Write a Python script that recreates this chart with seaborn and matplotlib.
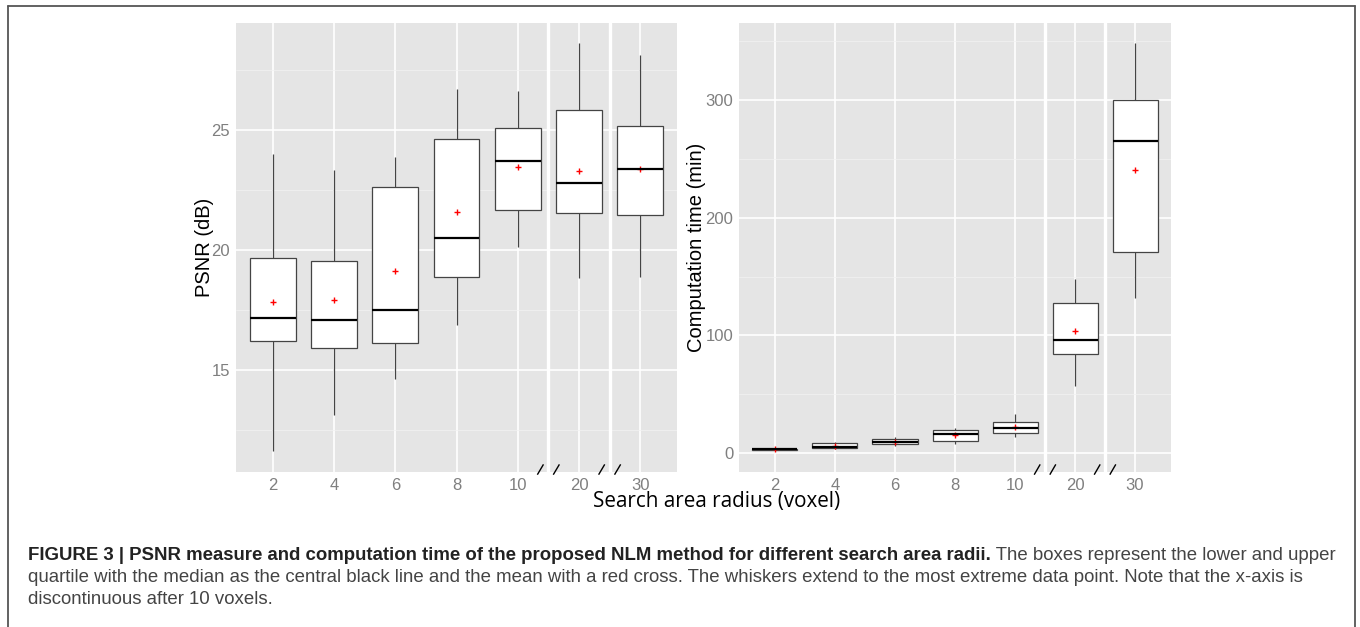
import numpy as np
import pandas as pd
import matplotlib
matplotlib.use("Agg")
import matplotlib.pyplot as plt
import matplotlib.transforms as mtransforms
from matplotlib.lines import Line2D
from matplotlib.ticker import MultipleLocator, FixedLocator
import seaborn as sns

# ---------------- data ----------------
radii = ["2", "4", "6", "8", "10", "20", "30"]

psnr_min = [11.63, 13.12, 14.61, 16.89, 20.15, 18.83, 18.90]
psnr_q1 = [16.21, 15.92, 16.14, 18.88, 21.68, 21.54, 21.47]
psnr_med = [17.15, 17.08, 17.51, 20.50, 23.71, 22.82, 23.37]
psnr_q3 = [19.67, 19.54, 22.65, 24.62, 25.11, 25.85, 25.19]
psnr_max = [24.01, 23.35, 23.90, 26.71, 26.65, 28.62, 28.12]
psnr_mean = [17.85, 17.93, 19.15, 21.57, 23.48, 23.30, 23.40]

time_min = [2.0, 3.5, 6.2, 7.6, 13.3, 57.0, 131.5]
time_q1 = [2.5, 4.0, 7.6, 9.9, 16.7, 84.2, 171.0]
time_med = [3.0, 5.4, 9.1, 16.4, 21.3, 96.1, 265.1]
time_q3 = [3.5, 8.2, 11.6, 19.6, 26.4, 127.3, 300.3]
time_max = [4.0, 9.0, 13.3, 21.0, 32.9, 147.7, 348.6]
time_mean = [3.0, 6.0, 9.5, 15.0, 21.9, 103.7, 240.4]

psnr_ticks = [15, 20, 25]
time_ticks = [0, 100, 200, 300]
axis_breaks = [4.5, 5.5]          # between 10|20 and 20|30

caption_bold = ("FIGURE 3 | PSNR measure and computation time of the proposed NLM "
                "method for different search area radii.")
caption_rest1 = " The boxes represent the lower and upper"
caption_line2 = ("quartile with the median as the central black line and the mean with a red "
                 "cross. The whiskers extend to the most extreme data point. Note that the x-axis is")
caption_line3 = "discontinuous after 10 voxels."


def five_number_frame(mins, q1s, meds, q3s, maxs):
    rows = []
    for r, a, b, c, d, e in zip(radii, mins, q1s, meds, q3s, maxs):
        for v in (a, b, c, d, e):
            rows.append((r, v))
    return pd.DataFrame(rows, columns=["radius", "value"])


psnr_df = five_number_frame(psnr_min, psnr_q1, psnr_med, psnr_q3, psnr_max)
time_df = five_number_frame(time_min, time_q1, time_med, time_q3, time_max)

# ---------------- style ----------------
sns.set_style("darkgrid")
plt.rcParams["font.family"] = ["Liberation Sans", "DejaVu Sans"]

W, H = 1360, 627
fig = plt.figure(figsize=(W / 100, H / 100), dpi=100)
fig.patch.set_facecolor("white")


def px_rect(x0, y0, x1, y1):
    return [x0 / W, 1 - y1 / H, (x1 - x0) / W, (y1 - y0) / H]


ax1 = fig.add_axes(px_rect(236, 23, 677, 472))
ax2 = fig.add_axes(px_rect(739, 23, 1171, 472))

panels = [
    (ax1, psnr_df, psnr_mean, psnr_ticks, (10.75, 29.47), 2.5),
    (ax2, time_df, time_mean, time_ticks, (-16.2, 365.7), 50),
]

for ax, df, means, yt, ylim, minor in panels:
    ax.set_facecolor("#E5E5E5")
    sns.boxplot(data=df, x="radius", y="value", order=radii, ax=ax,
                color="white", saturation=1, width=0.75,
                linecolor="#444444", linewidth=0.9, whis=(0, 100),
                showcaps=False, showfliers=False,
                medianprops=dict(color="black", linewidth=1.6))
    sns.pointplot(x=radii, y=means, order=radii, ax=ax, color="red",
                  marker="+", linestyle="none", errorbar=None,
                  markersize=5, markeredgewidth=1.0)
    ax.set_xlim(-0.6, 6.6)
    ax.set_ylim(*ylim)
    ax.yaxis.set_major_locator(FixedLocator(yt))
    ax.yaxis.set_minor_locator(MultipleLocator(minor))
    ax.set_axisbelow(True)
    ax.grid(True, which="major", color="white", linewidth=1.2)
    ax.grid(True, which="minor", axis="y", color="#F2F2F2", linewidth=0.5)
    ax.tick_params(axis="both", which="major", length=3, width=0.8,
                   color="#7F7F7F", labelcolor="#7F7F7F", labelsize=12, pad=1.2)
    ax.tick_params(which="minor", length=0)
    for s in ax.spines.values():
        s.set_visible(False)
    ax.set_xlabel("")
    ax.set_ylabel("")
    for xb in axis_breaks:
        ax.axvline(xb, color="white", linewidth=2.4, zorder=1.5)
        trans = mtransforms.blended_transform_factory(ax.transData, ax.transAxes)
        for dx in (-0.13, 0.13):
            xc = xb + dx
            ax.plot([xc - 0.05, xc + 0.05], [-0.006, 0.017], transform=trans,
                    color="black", linewidth=1.0, clip_on=False,
                    solid_capstyle="butt", zorder=5)

# axis labels
fig.text(204 / W, 1 - 247.5 / H, "PSNR (dB)", rotation=90, ha="center", va="center",
         fontsize=14.5, color="black")
fig.text(697 / W, 1 - 247.5 / H, "Computation time (min)", rotation=90, ha="center",
         va="center", fontsize=14.5, color="black")
xl = fig.text(717 / W, 1 - 501 / H, "Search area radius (voxel)", ha="center", va="center",
              fontsize=14, color="black", family=["Open Sans", "DejaVu Sans"])

# figure frame
for xs, ys in [((8, 1355), (6, 6)), ((8, 8), (6, 627)), ((1355, 1355), (6, 627))]:
    fig.add_artist(Line2D([x / W for x in xs], [1 - y / H for y in ys],
                          color="#555555", linewidth=1.3))

# caption
fig.canvas.draw()
rend = fig.canvas.get_renderer()
w = xl.get_window_extent(rend).width
xl.set_fontsize(14 * 249 / w)

x0 = 28
base = 10.0
tb = fig.text(x0 / W, 1 - 555 / H, caption_bold, fontsize=base, fontweight="bold",
              color="#222222", va="center", ha="left")
tr = fig.text(x0 / W, 1 - 555 / H, caption_rest1, fontsize=base, color="#444444",
              va="center", ha="left")
fig.canvas.draw()
wb = tb.get_window_extent(rend).width
wr = tr.get_window_extent(rend).width
size = base * (1342 - x0) / (wb + wr)
tb.set_fontsize(size)
tr.set_fontsize(size)
fig.canvas.draw()
wb = tb.get_window_extent(rend).width
tr.set_x((x0 + wb) / W)
fig.text(x0 / W, 1 - 577 / H, caption_line2, fontsize=size, color="#444444",
         va="center", ha="left")
fig.text(x0 / W, 1 - 599 / H, caption_line3, fontsize=size, color="#444444",
         va="center", ha="left")

fig.savefig("out.png", dpi=100, facecolor="white")
